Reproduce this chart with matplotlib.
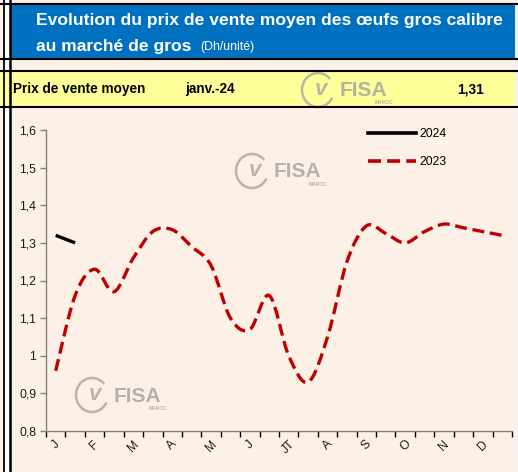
import matplotlib
matplotlib.use("Agg")
import matplotlib.pyplot as plt
from matplotlib.path import Path
from matplotlib.patches import PathPatch, Rectangle, Arc
from matplotlib.lines import Line2D

plt.rcParams['font.family'] = ['Liberation Sans', 'DejaVu Sans']

# data (semi-monthly points, Dh/unit)
month_labels = ['J', 'F', 'M', 'A', 'M', 'J', 'JT', 'A', 'S', 'O', 'N', 'D']
prix_2023 = [0.96, 1.16, 1.23, 1.17, 1.26, 1.33, 1.335, 1.29, 1.24, 1.10, 1.07, 1.16,
             1.00, 0.93, 1.05, 1.25, 1.345, 1.325, 1.30, 1.33, 1.35, 1.34, 1.33, 1.32]
prix_2024 = [1.32, 1.30]
series_names = ['2024', '2023']
last_month = 'janv.-24'
last_price = '1,31'

W, H = 518, 472
PEACH = '#FDF1E7'
BLUE = '#0070C0'
YELLOW = '#FFFF99'
RED = '#C00000'
AXGRAY = '#808080'


def fx(x):
    return x / W


def fy(y):
    return 1 - y / H


def smooth_path(xs, ys):
    # excel-like smoothed line: bezier through the points
    verts = [(xs[0], ys[0])]
    codes = [Path.MOVETO]
    n = len(xs)
    for i in range(n - 1):
        x0, y0 = (xs[i - 1], ys[i - 1]) if i > 0 else (xs[i], ys[i])
        x1, y1 = xs[i], ys[i]
        x2, y2 = xs[i + 1], ys[i + 1]
        x3, y3 = (xs[i + 2], ys[i + 2]) if i + 2 < n else (x2, y2)
        c1 = (x1 + (x2 - x0) / 6, y1 + (y2 - y0) / 6)
        c2 = (x2 - (x3 - x1) / 6, y2 - (y3 - y1) / 6)
        verts += [c1, c2, (x2, y2)]
        codes += [Path.CURVE4] * 3
    return Path(verts, codes)


def draw_logo(fig, x, y, s=1.0):
    # rough FISA watermark
    gray = '#A6A6A6'
    fig.patches.append(Arc((fx(x), fy(y)), 32 * s / W, 34 * s / H, theta1=45, theta2=330,
                           transform=fig.transFigure, color=gray, lw=1.8 * s, alpha=0.8))
    fig.text(fx(x + 3 * s), fy(y), 'v', fontsize=16 * s, color=gray, style='italic',
             fontweight='bold', ha='center', va='center', alpha=0.8)
    fig.text(fx(x + 22 * s), fy(y + 1 * s), 'FISA', fontsize=15 * s, color=gray,
             fontweight='bold', ha='left', va='center', alpha=0.85)
    fig.text(fx(x + 66 * s), fy(y + 13 * s), 'MAROC', fontsize=3.5 * s, color=gray,
             fontweight='bold', ha='center', va='center', alpha=0.85)


fig = plt.figure(figsize=(W / 100, H / 100), dpi=100)
fig.patch.set_facecolor(PEACH)

# header frame
fig.patches.append(Rectangle((fx(4), 0), fx(5), 1, transform=fig.transFigure,
                             facecolor='white', edgecolor='none'))
fig.patches.append(Rectangle((fx(11), fy(58)), fx(504), 53 / H, transform=fig.transFigure,
                             facecolor=BLUE, edgecolor='none'))
fig.patches.append(Rectangle((fx(0), fy(106)), fx(515), 34 / H, transform=fig.transFigure,
                             facecolor=YELLOW, edgecolor='none'))
fig.patches.append(Rectangle((fx(515), 0), fx(3), 1, transform=fig.transFigure,
                             facecolor='#F2F2F2', edgecolor='none'))
for yy in [4, 59, 71, 107]:
    fig.lines.append(Line2D([0, 1], [fy(yy), fy(yy)], transform=fig.transFigure,
                            color='black', lw=1.5))
fig.lines.append(Line2D([fx(3.5), fx(3.5)], [0, 1], transform=fig.transFigure, color='black', lw=1.3))
fig.lines.append(Line2D([fx(9.5), fx(9.5)], [0, 1], transform=fig.transFigure, color='black', lw=1.8))

fig.text(fx(36), fy(21), 'Evolution du prix de vente moyen des œufs gros calibre',
         color='white', fontsize=12.6, fontweight='bold', va='center')
fig.text(fx(36), fy(46), 'au marché de gros', color='white', fontsize=12.6,
         fontweight='bold', va='center')
fig.text(fx(200), fy(47), '(Dh/unité)', color='white', fontsize=8.8, va='center')

fig.text(fx(13), fy(89), 'Prix de vente moyen', fontsize=9.8, fontweight='bold', va='center')
fig.text(fx(185), fy(89), last_month, fontsize=9.8, fontweight='bold', va='center')
fig.text(fx(457), fy(89), last_price, fontsize=9.8, fontweight='bold', va='center')

# chart
ax = fig.add_axes([fx(46), fy(431), fx(512) - fx(46), (431 - 130) / H])
ax.set_facecolor('none')
ax.set_xlim(-0.5, 23.5)
ax.set_ylim(0.8, 1.6)

x23 = list(range(len(prix_2023)))
x24 = list(range(len(prix_2024)))
ax.add_patch(PathPatch(smooth_path(x23, prix_2023), fill=False, edgecolor=RED, lw=2.4,
                       linestyle=(0, (3.6, 1.7)), capstyle='butt', zorder=3))
ax.add_patch(PathPatch(smooth_path(x24, prix_2024), fill=False, edgecolor='black', lw=2.4,
                       zorder=4))

for s in ['top', 'right']:
    ax.spines[s].set_visible(False)
for s in ['left', 'bottom']:
    ax.spines[s].set_color(AXGRAY)
    ax.spines[s].set_linewidth(1.0)

yt = [0.8, 0.9, 1.0, 1.1, 1.2, 1.3, 1.4, 1.5, 1.6]
ax.set_yticks(yt)
ax.set_yticklabels([('%g' % v).replace('.', ',') for v in yt], fontsize=8.8, color='#1a1a1a')
ax.tick_params(axis='y', direction='out', length=4, color=AXGRAY, width=1, pad=3)

ax.set_xticks([i - 0.5 for i in range(25)], minor=True)
ax.set_xticks(list(range(0, 24, 2)))
ax.set_xticklabels(month_labels, rotation=45, ha='center', fontsize=8.8, color='#1a1a1a')
ax.tick_params(axis='x', which='major', length=0, pad=5)
ax.tick_params(axis='x', which='minor', direction='out', length=4, color='black', width=1)

handles = [Line2D([], [], color='black', lw=2.6),
           Line2D([], [], color=RED, lw=2.6, linestyle=(0, (3.6, 1.7)))]
fig.legend(handles, series_names, loc='upper left', bbox_to_anchor=(fx(368), fy(128)),
           frameon=False, fontsize=8.8, handlelength=3.9, handletextpad=0.3,
           labelspacing=1.3, borderpad=0, borderaxespad=0)

draw_logo(fig, 252, 171, 1.0)
draw_logo(fig, 92, 395, 1.0)
draw_logo(fig, 318, 90, 1.0)

fig.savefig('out.png', dpi=100, facecolor=fig.get_facecolor())
